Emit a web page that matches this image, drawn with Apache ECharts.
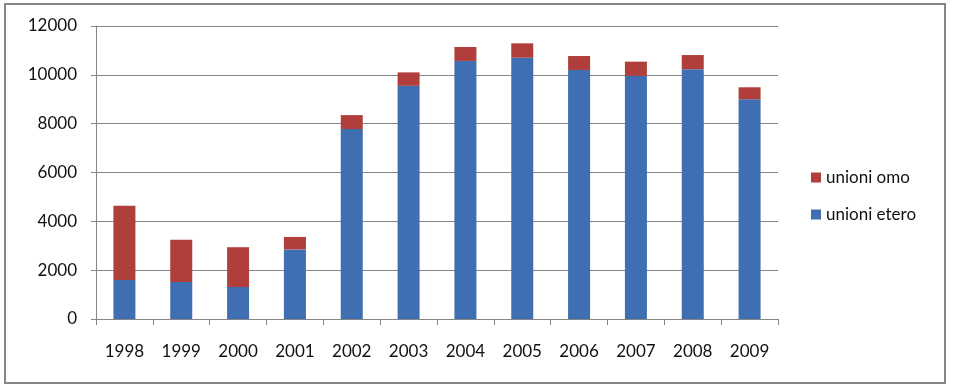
<!DOCTYPE html>
<html>
<head>
<meta charset="utf-8">
<script src="https://cdn.jsdelivr.net/npm/echarts@6/dist/echarts.min.js"></script>
<style>html,body{margin:0;padding:0;background:#fff}#c{width:953px;height:390px}</style>
</head>
<body>
<div id="c"></div>
<script>
const categories = ['1998','1999','2000','2001','2002','2003','2004','2005','2006','2007','2008','2009'];
const unioniEtero = [1600, 1520, 1310, 2850, 7780, 9550, 10570, 10700, 10200, 9960, 10230, 9000];
const unioniOmo = [3040, 1730, 1630, 510, 570, 550, 570, 590, 570, 580, 580, 490];
const yTicks = {min: 0, max: 12000, interval: 2000};

const chart = echarts.init(document.getElementById('c'));
const font = 'Lato, "Open Sans", sans-serif';
chart.setOption({
  animation: false,
  graphic: [{
    type: 'rect', shape: {x: 5, y: 4, width: 940, height: 379},
    style: {fill: 'none', stroke: '#868686', lineWidth: 2}, silent: true
  }],
  grid: {left: 96, right: 175, top: 26, bottom: 71},
  legend: {
    orient: 'vertical', left: 806, top: 164, itemWidth: 10, itemHeight: 10,
    itemGap: 20, icon: 'rect',
    textStyle: {fontFamily: font, fontSize: 17, color: '#111'},
    data: ['unioni omo', 'unioni etero']
  },
  xAxis: {
    type: 'category', data: categories,
    axisLine: {lineStyle: {color: '#868686', width: 1}},
    axisTick: {show: true, length: 6, lineStyle: {color: '#868686'}},
    axisLabel: {fontFamily: font, fontSize: 17, color: '#111', margin: 24}
  },
  yAxis: {
    type: 'value', min: yTicks.min, max: yTicks.max, interval: yTicks.interval,
    axisLine: {show: true, lineStyle: {color: '#868686', width: 1}},
    axisTick: {show: true, length: 5, lineStyle: {color: '#868686'}},
    axisLabel: {fontFamily: font, fontSize: 17, color: '#111', margin: 19,
      formatter: v => String(v)},
    splitLine: {lineStyle: {color: '#868686', width: 1}}
  },
  series: [
    {name: 'unioni etero', type: 'bar', stack: 't', data: unioniEtero, barWidth: 22,
     itemStyle: {color: '#3F6EB2'}},
    {name: 'unioni omo', type: 'bar', stack: 't', data: unioniOmo, barWidth: 22,
     itemStyle: {color: '#B03E3B'}}
  ]
});
</script>
</body>
</html>
